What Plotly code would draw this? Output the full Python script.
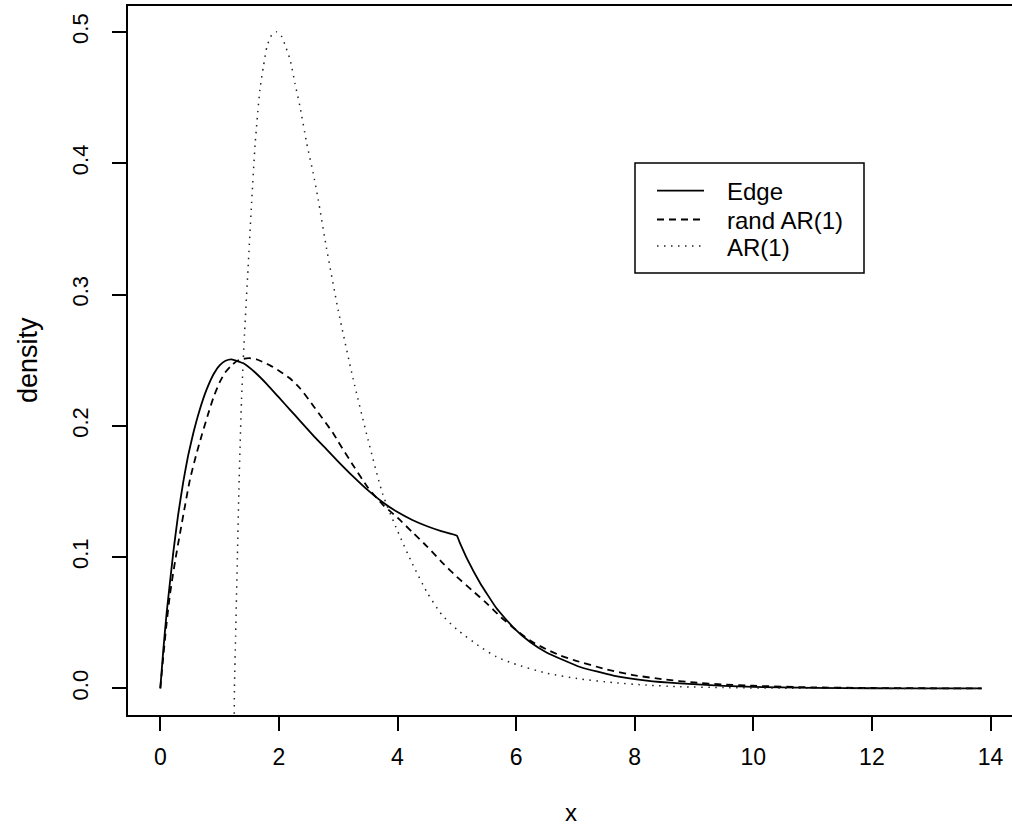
import plotly.graph_objects as go

# ---------------- data ----------------
edge_x = [0, 0.05, 0.108, 0.22, 0.30, 0.388, 0.47, 0.557, 0.66, 0.78, 0.90, 1.0, 1.1, 1.2,
          1.4, 1.6, 1.8, 2.0, 2.2, 2.356, 2.6, 2.8, 3.0, 3.25, 3.5, 3.75, 4.0, 4.25, 4.5,
          4.75, 5.0, 5.05, 5.17, 5.39, 5.67, 5.95, 6.23, 6.52, 7.08, 7.64, 8.2, 8.76, 9.5,
          10.0, 11.0, 12.0, 13.0, 13.85]
edge_y = [0, 0.029, 0.058, 0.104, 0.132, 0.1575, 0.1775, 0.1945, 0.2115, 0.2275, 0.2395, 0.246, 0.2495, 0.2506,
          0.2476, 0.2406, 0.2316, 0.2216, 0.2116, 0.2038, 0.1915, 0.1822, 0.1728, 0.1615, 0.151, 0.1418, 0.1343, 0.1283, 0.1235,
          0.1196, 0.1163, 0.111, 0.099, 0.0805, 0.0610, 0.0465, 0.0355, 0.0272, 0.0163, 0.0098, 0.0060, 0.0038, 0.0019,
          0.0011, 0.0004, 0.0001, 0.00003, 0.0]

rand_x = [0, 0.05, 0.10, 0.164, 0.25, 0.332, 0.42, 0.5, 0.6, 0.7, 0.8, 0.9, 1.0, 1.1, 1.2, 1.3,
          1.4, 1.5, 1.63, 1.85, 2.0, 2.19, 2.356, 2.6, 2.92, 3.0, 3.25, 3.5, 3.75, 4.0, 4.25,
          4.5, 4.75, 5.0, 5.25, 5.5, 5.75, 6.0, 6.25, 6.5, 6.75, 7.0, 7.5, 8.0, 8.5, 9.0, 9.5,
          10.0, 11.0, 12.0, 13.0, 13.85]
rand_y = [0, 0.024, 0.047, 0.072, 0.097, 0.118, 0.140, 0.159, 0.177, 0.193, 0.208, 0.222, 0.233, 0.241, 0.246, 0.2495,
          0.251, 0.2515, 0.2505, 0.246, 0.242, 0.236, 0.2286, 0.214, 0.194, 0.188, 0.170, 0.153, 0.140, 0.130, 0.119,
          0.108, 0.096, 0.085, 0.075, 0.065, 0.054, 0.0445, 0.036, 0.030, 0.025, 0.0212, 0.0148, 0.0100, 0.0068, 0.0045, 0.0030,
          0.0020, 0.0008, 0.0003, 0.0001, 0.0]

ar_x = [1.245, 1.25, 1.27, 1.30, 1.33, 1.37, 1.42, 1.48, 1.54, 1.60, 1.68, 1.74, 1.80, 1.88, 1.96,
        2.04, 2.12, 2.19, 2.27, 2.356, 2.47, 2.58, 2.66, 2.80, 3.0, 3.25, 3.5, 3.75, 4.0, 4.25,
        4.5, 4.75, 5.0, 5.39, 5.67, 5.95, 6.52, 7.08, 7.64, 8.2, 8.76, 9.5, 10.5, 12.0, 13.85]
ar_y = [-0.03, 0.0, 0.04, 0.10, 0.16, 0.22, 0.27, 0.32, 0.37, 0.415, 0.456, 0.474, 0.489, 0.4977, 0.5,
        0.497, 0.488, 0.4786, 0.461, 0.443, 0.415, 0.392, 0.373, 0.336, 0.288, 0.236, 0.190, 0.148, 0.120, 0.095,
        0.073, 0.056, 0.045, 0.0318, 0.024, 0.019, 0.0115, 0.0072, 0.0044, 0.0025, 0.0013, 0.0006, 0.0002, 0.00003, 0.0]

x_ticks = [0, 2, 4, 6, 8, 10, 12, 14]
y_ticks = [0.0, 0.1, 0.2, 0.3, 0.4, 0.5]
y_tick_text = ["0.0", "0.1", "0.2", "0.3", "0.4", "0.5"]

legend_names = ["Edge", "rand AR(1)", "AR(1)"]
FONT = "Liberation Sans, Arial, sans-serif"

fig = go.Figure()
fig.add_trace(go.Scatter(x=edge_x, y=edge_y, mode="lines", name=legend_names[0],
                         line=dict(color="black", width=1.8, shape="spline", smoothing=0.4)))
fig.add_trace(go.Scatter(x=rand_x, y=rand_y, mode="lines", name=legend_names[1],
                         line=dict(color="black", width=1.8, dash="7px,5px", shape="spline", smoothing=0.6)))
fig.add_trace(go.Scatter(x=ar_x, y=ar_y, mode="lines", name=legend_names[2],
                         line=dict(color="#222", width=1.5, dash="1.5px,5.5px", shape="spline", smoothing=0.6)))

W, H = 1012, 825
L, R, T, B = 128, 0, 6, 110
pw, ph = W - L - R, H - T - B

def px(xp):
    return (xp - L) / pw

def py(yp):
    return (H - B - yp) / ph

# manual legend (R style)
fig.add_shape(type="rect", xref="paper", yref="paper",
              x0=px(635), x1=px(864), y0=py(273), y1=py(163),
              line=dict(color="black", width=1.5), fillcolor="white", layer="above")
rows = [190.7, 219.5, 246]
styles = [dict(color="black", width=1.8),
          dict(color="black", width=1.8, dash="7px,5px"),
          dict(color="#222", width=1.5, dash="1.5px,5.5px")]
for name, yr, st in zip(legend_names, rows, styles):
    fig.add_shape(type="line", xref="paper", yref="paper",
                  x0=px(657), x1=px(704), y0=py(yr), y1=py(yr), line=st, layer="above")
    fig.add_annotation(xref="paper", yref="paper", x=px(725), y=py(yr + 1),
                       text=name, showarrow=False, xanchor="left", yanchor="middle",
                       font=dict(family=FONT, size=24, color="black"))

# axis titles
fig.add_annotation(xref="paper", yref="paper", x=px(570.7), y=py(812), text="x",
                   showarrow=False, xanchor="center", yanchor="middle",
                   font=dict(family=FONT, size=24, color="black"))
fig.add_annotation(xref="paper", yref="paper", x=px(28), y=py(360), text="density",
                   showarrow=False, xanchor="center", yanchor="middle", textangle=-90,
                   font=dict(family=FONT, size=27, color="black"))

x0 = -(160.3 - L) / 59.3
x1 = x0 + pw / 59.3
y_top = (688.4 - T) / 1313
y_bot = (688.4 - (H - B)) / 1313

fig.update_layout(
    width=W, height=H,
    margin=dict(l=L, r=R, t=T, b=B, pad=0),
    paper_bgcolor="white", plot_bgcolor="white",
    showlegend=False,
    font=dict(family=FONT, size=22, color="black"),
    xaxis=dict(range=[x0, x1], tickvals=x_ticks, ticktext=[str(v) for v in x_ticks],
               showgrid=False, zeroline=False, showline=True, linecolor="black", linewidth=1.5,
               mirror=True, ticks="outside", ticklen=14, tickwidth=1.5, tickcolor="black",
               ticklabelstandoff=7, tickfont=dict(family=FONT, size=23, color="black")),
    yaxis=dict(range=[y_bot, y_top], tickvals=y_ticks, ticktext=y_tick_text,
               showgrid=False, zeroline=False, showline=True, linecolor="black", linewidth=1.5,
               mirror=False, ticks="outside", ticklen=14, tickwidth=1.5, tickcolor="black",
               tickangle=-90, ticklabelstandoff=15, tickfont=dict(family=FONT, size=22, color="black")),
)

fig.write_html("out.html", config={"displayModeBar": False},
               post_script="document.body.style.margin='0';document.body.style.overflow='hidden';")
